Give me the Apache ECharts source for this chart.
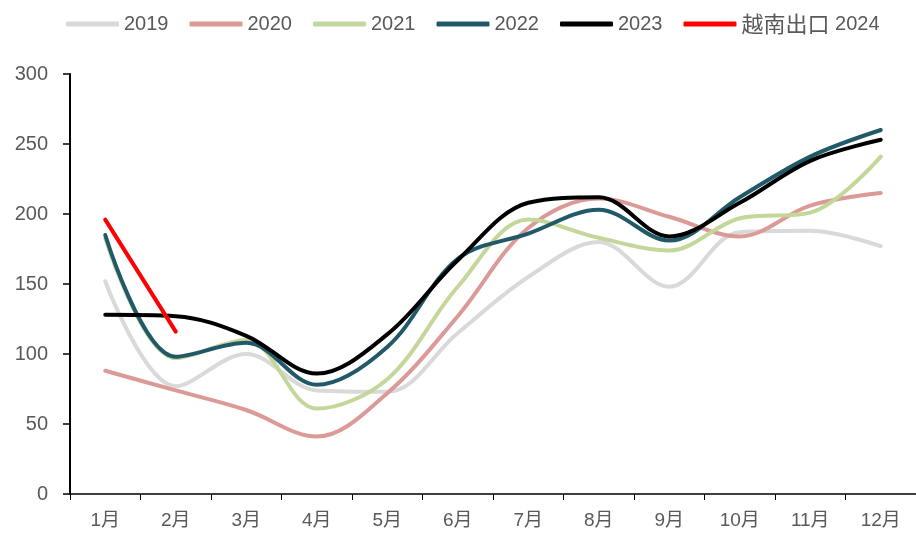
<!DOCTYPE html>
<html><head><meta charset="utf-8">
<script src="https://cdn.jsdelivr.net/npm/echarts@6/dist/echarts.min.js"></script>
<style>html,body{margin:0;padding:0;background:#fff}#c{width:916px;height:540px}</style>
</head><body><div id="c"></div>
<script>
const categories = ['1月','2月','3月','4月','5月','6月','7月','8月','9月','10月','11月','12月'];
const s2019 = [152, 77, 100, 74, 73, 115, 155, 180, 148, 187, 188, 177];
const s2020 = [88, 74, 60, 41, 72, 127, 190, 211, 198, 184, 206, 215];
const s2021 = [183, 97, 110, 61, 82, 148, 196, 183, 174, 197, 201, 241];
const s2022 = [185, 98, 108, 78, 105, 168, 186, 203, 181, 212, 241, 260];
const s2023 = [128, 127, 113, 86, 114, 167, 208, 212, 184, 208, 238, 253];
const s2024 = [196, 116];
const names = ['2019','2020','2021','2022','2023','越南出口 2024'];
const colors = ['#d9d9d9','#dc9a97','#c4d79b','#215968','#000000','#ff0000'];
const datas = [s2019, s2020, s2021, s2022, s2023, s2024];

const chart = echarts.init(document.getElementById('c'));
chart.setOption({
  animation: false,
  legend: {
    top: 8, left: 61,
    itemWidth: 53, itemHeight: 5, itemGap: 21,
    icon: 'roundRect',
    formatter: function (n) {
      const m = n.match(/^([^\x00-\x7f]+)(.*)$/);
      return m ? '{c|' + m[1] + '}' + m[2] : n;
    },
    textStyle: {
      color: '#595959', fontSize: 20, fontFamily: 'Liberation Sans, Noto Sans CJK SC, sans-serif',
      rich: {c: {color: '#595959', fontSize: 22, fontFamily: 'Noto Sans CJK SC, sans-serif'}}
    },
    data: names
  },
  grid: {left: 70, right: 0, top: 74, bottom: 46},
  xAxis: {
    type: 'category', data: categories, boundaryGap: true,
    axisLine: {lineStyle: {color: '#000', width: 1.5}},
    axisTick: {show: true, length: 6, lineStyle: {color: '#000'}},
    axisLabel: {color: '#595959', fontSize: 19, margin: 17, fontFamily: 'Liberation Sans, Noto Sans CJK SC, sans-serif'}
  },
  yAxis: {
    type: 'value', min: 0, max: 300, interval: 50,
    splitLine: {show: false},
    axisLine: {show: true, lineStyle: {color: '#000', width: 2}},
    axisTick: {show: true, length: 7, lineStyle: {color: '#000', width: 1.5}},
    axisLabel: {color: '#595959', fontSize: 20, margin: 22, fontFamily: 'Liberation Sans, sans-serif'}
  },
  series: datas.map((d, i) => ({
    name: names[i], type: 'line', data: d, smooth: i === 5 ? false : 0.35,
    symbol: 'none', showSymbol: false,
    lineStyle: {color: colors[i], width: 4, cap: 'round'},
    itemStyle: {color: colors[i]}
  }))
});
</script></body></html>
